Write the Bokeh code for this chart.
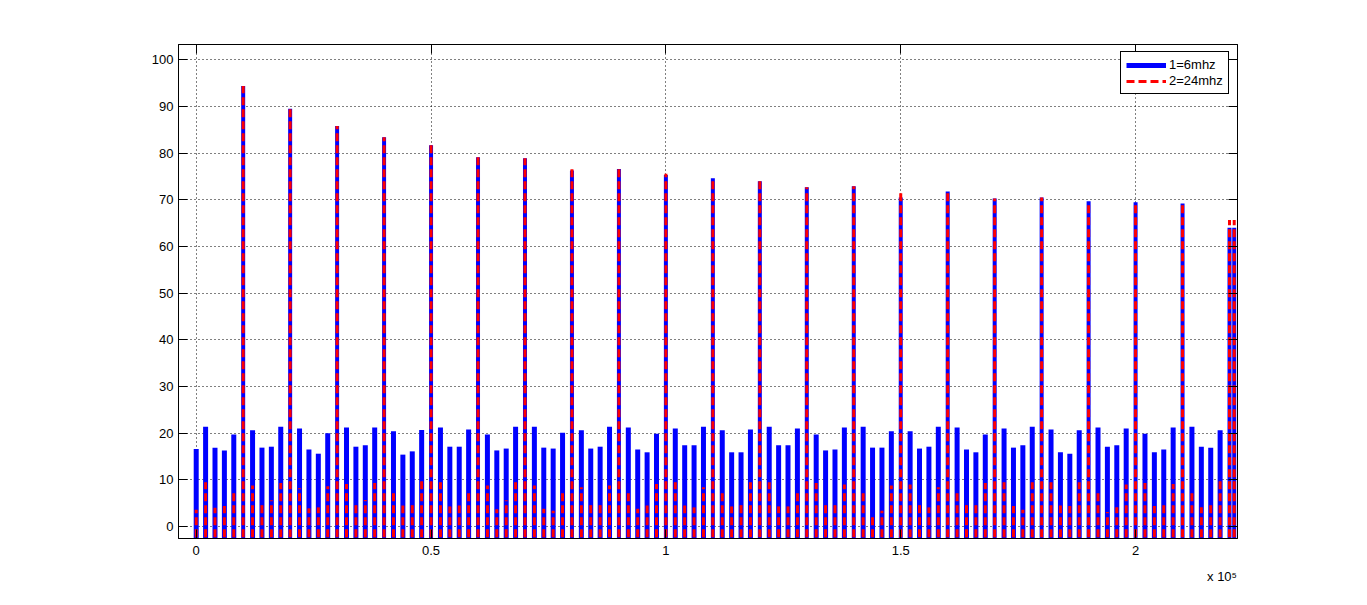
from bokeh.plotting import figure
from bokeh.models import (Range1d, FixedTicker, LinearAxis, Legend, LegendItem,
                          ColumnDataSource)
from bokeh.embed import file_html
from bokeh.resources import INLINE

# ---- data ----
freq = list(range(0, 220001, 2000)) + [221000]

blue = [16.6, 21.4, 16.9, 16.3, 19.7, 94.4, 20.6, 16.9, 17.1, 21.4,
        89.5, 21.0, 16.5, 15.6, 20.0, 85.8, 21.2, 17.1, 17.4, 21.2,
        83.4, 20.4, 15.4, 16.1, 20.7, 81.7, 21.2, 17.1, 17.1, 20.8,
        79.1, 19.7, 16.3, 16.7, 21.4, 78.9, 21.4, 16.9, 16.7, 20.1,
        76.3, 20.6, 16.7, 17.1, 21.4, 76.6, 21.2, 16.5, 15.9, 19.9,
        75.3, 21.0, 17.4, 17.4, 21.4, 74.6, 20.6, 15.9, 15.9, 20.8,
        74.0, 21.4, 17.4, 17.4, 21.0, 72.7, 19.7, 16.3, 16.5, 21.2,
        72.9, 21.4, 16.9, 16.9, 20.4, 70.5, 20.4, 16.7, 17.1, 21.4,
        71.8, 21.2, 16.5, 15.9, 19.7, 70.3, 21.0, 16.9, 17.4, 21.4,
        70.5, 20.8, 15.9, 15.6, 20.6, 69.7, 21.2, 17.1, 17.4, 21.0,
        69.5, 19.9, 15.9, 16.5, 21.2, 69.2, 21.4, 17.1, 16.9, 20.6,
        64.0, 64.0]

red = [3.6, 9.5, 4.0, 4.4, 7.9, 94.4, 8.8, 5.0, 5.6, 9.3,
       89.5, 8.2, 3.9, 4.1, 8.6, 85.8, 9.1, 5.2, 5.7, 9.3,
       83.4, 7.9, 4.5, 4.6, 9.7, 81.7, 9.5, 4.3, 4.5, 7.9,
       79.1, 8.8, 3.7, 5.6, 9.5, 78.9, 8.8, 3.8, 3.4, 8.0,
       77.2, 8.4, 4.7, 4.7, 8.8, 76.6, 8.0, 3.8, 4.5, 9.1,
       75.6, 9.5, 4.5, 4.1, 8.4, 74.6, 8.0, 4.3, 5.0, 9.5,
       74.1, 9.5, 4.3, 4.3, 7.7, 72.7, 9.3, 5.2, 5.2, 9.0,
       72.9, 7.9, 2.7, 3.4, 8.8, 72.0, 9.0, 4.7, 4.1, 8.4,
       71.8, 7.9, 4.7, 4.7, 9.3, 70.3, 9.5, 4.4, 3.6, 9.5,
       70.5, 9.5, 4.5, 4.4, 9.5, 69.7, 7.9, 3.1, 4.1, 9.0,
       69.5, 9.3, 4.4, 5.0, 9.1, 69.2, 8.0, 4.1, 4.7, 10.2,
       65.7, 65.7]

x_ticks = [0, 50000, 100000, 150000, 200000]
x_tick_labels = ["0", "0.5", "1", "1.5", "2"]
y_ticks = [0, 10, 20, 30, 40, 50, 60, 70, 80, 90, 100]
series_names = ["1=6mhz", "2=24mhz"]
exponent_text = "x 10\u2075"
exponent_pos = 218400
FLOOR = -10.0

FONT = "Liberation Sans"

src = ColumnDataSource(dict(
    x=freq,
    blue=blue,
    red=red,
    base=[FLOOR] * len(freq),
    bw=[4 if v > 30 else 5 for v in blue],
))

p = figure(width=1351, height=589, output_backend="svg", toolbar_location=None,
           x_range=Range1d(-3770, 221700), y_range=Range1d(-2.57, 103.28),
           min_border_left=178, min_border_right=114, min_border_top=44,
           min_border_bottom=51, background_fill_color="white",
           border_fill_color="white")

p.outline_line_color = "black"
p.outline_line_alpha = 1.0
p.outline_line_width = 1

rb = p.segment(x0="x", y0="base", x1="x", y1="blue", source=src,
               line_color="#0000ff", line_width="bw", line_cap="butt")
rr = p.segment(x0="x", y0="base", x1="x", y1="red", source=src,
               line_color="#ff0000", line_width=3, line_dash="8 4",
               line_cap="butt")

xt = FixedTicker(ticks=x_ticks)
yt = FixedTicker(ticks=y_ticks)

for ax in (p.xaxis[0], p.yaxis[0]):
    ax.major_tick_in = 9
    ax.major_tick_out = 0
    ax.minor_tick_line_color = None
    ax.axis_line_color = "black"
    ax.major_tick_line_color = "black"
    ax.major_label_text_font = FONT
    ax.major_label_text_font_size = "13px"
    ax.major_label_text_color = "black"
    ax.major_label_standoff = 5

p.xaxis[0].ticker = xt
p.xaxis[0].major_label_overrides = {t: s for t, s in zip(x_ticks, x_tick_labels)}
p.xaxis[0].major_label_standoff = 7
p.yaxis[0].ticker = yt

top_ax = LinearAxis(ticker=xt, major_tick_in=9, major_tick_out=0,
                    minor_tick_line_color=None,
                    major_label_overrides={t: "" for t in x_ticks},
                    axis_line_color="black", major_label_standoff=0)
right_ax = LinearAxis(ticker=yt, major_tick_in=9, major_tick_out=0,
                      minor_tick_line_color=None,
                      major_label_overrides={t: "" for t in y_ticks},
                      axis_line_color="black", major_label_standoff=0)
p.add_layout(top_ax, "above")
p.add_layout(right_ax, "right")

# "x 10^5" multiplier under the right end of the x axis
exp_ax = LinearAxis(ticker=FixedTicker(ticks=[exponent_pos]),
                    major_label_overrides={exponent_pos: exponent_text},
                    major_tick_line_color=None, minor_tick_line_color=None,
                    axis_line_color=None, major_label_standoff=5,
                    major_label_text_font=FONT, major_label_text_font_size="13px",
                    major_label_text_color="black")
p.add_layout(exp_ax, "below")

for g in (p.xgrid[0], p.ygrid[0]):
    g.grid_line_color = "black"
    g.grid_line_dash = "1 3"
    g.grid_line_width = 1
    g.grid_line_alpha = 1.0
p.xgrid[0].ticker = xt
p.ygrid[0].ticker = yt

legend = Legend(items=[LegendItem(label=series_names[0], renderers=[rb], index=1),
                       LegendItem(label=series_names[1], renderers=[rr])],
                location=(942, 444), orientation="vertical",
                border_line_color="black", border_line_width=1, border_line_alpha=1,
                background_fill_color="white", background_fill_alpha=1,
                label_text_font=FONT, label_text_font_size="13px",
                label_text_color="black",
                glyph_width=40, glyph_height=14, label_height=14,
                padding=5, spacing=1, margin=0, label_standoff=3)
p.add_layout(legend, "center")

with open("out.html", "w") as f:
    f.write(file_html(p, INLINE))
